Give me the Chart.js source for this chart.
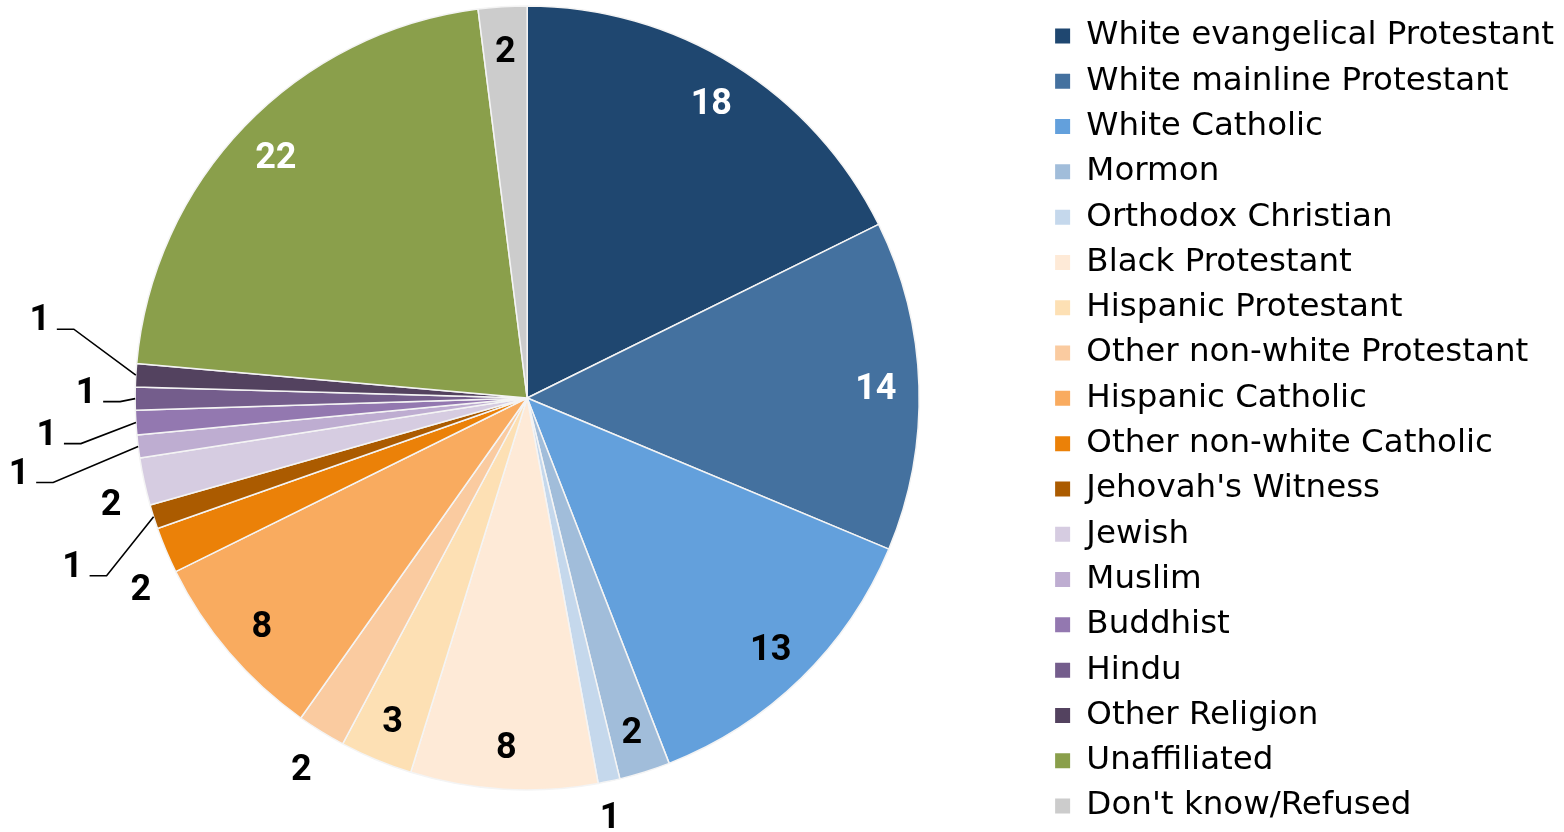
<!DOCTYPE html>
<html>
<head>
<meta charset="utf-8">
<script src="https://cdn.jsdelivr.net/npm/chart.js@4.4.1/dist/chart.umd.min.js"></script>
<style>
  html, body { margin: 0; padding: 0; background: #fff; }
  #wrap { width: 1564px; height: 832px; position: relative; }
</style>
</head>
<body>
<div id="wrap"><canvas id="religionPie"></canvas></div>
<script>
// religious groups, clockwise from 12 o'clock
const groups = [
  'White evangelical Protestant', 'White mainline Protestant', 'White Catholic', 'Mormon',
  'Orthodox Christian', 'Black Protestant', 'Hispanic Protestant', 'Other non-white Protestant',
  'Hispanic Catholic', 'Other non-white Catholic', "Jehovah's Witness", 'Jewish',
  'Muslim', 'Buddhist', 'Hindu', 'Other Religion', 'Unaffiliated', "Don't know/Refused"
];
// share of respondents (%)
const shares = [17.7, 13.6, 12.8, 2.1, 0.9, 7.7, 3.0, 2.0, 7.9, 1.9, 1.0, 1.95, 0.95, 1.0, 0.95, 0.95, 21.6, 2.0];
// rounded numbers printed on the chart
const shownValues = [18, 14, 13, 2, 1, 8, 3, 2, 8, 2, 1, 2, 1, 1, 1, 1, 22, 2];

const sliceColors = [
  '#1f4770', '#44719f', '#63a0dc', '#a1bdda', '#c5d8ec', '#feead7', '#fde0b4', '#facba0',
  '#f9ab5f', '#eb8108', '#ab5b00', '#d6cce1', '#beadd1', '#9378b0', '#745d8c', '#53425f',
  '#8a9f4b', '#cccccc'
];

// where each number goes: 'in' = inside slice, otherwise offset from the slice's outer edge
const labelPlace = [
  'in', 'in', 'in', 'in',
  { dx: 1, dy: 35 }, 'in', 'in', { dx: -20, dy: 36 },
  'in', { dx: -25, dy: 38 }, { dx: -81, dy: 48, leader: true }, { dx: -33, dy: 21 },
  { dx: -119, dy: 25, leader: true }, { dx: -89, dy: 10, leader: true },
  { dx: -49, dy: -8, leader: true }, { dx: -96, dy: -57, leader: true },
  'in', 'in'
];
const whiteText = [0, 1, 16];

const sliceLabels = {
  id: 'sliceLabels',
  afterDatasetsDraw(chart) {
    const ctx = chart.ctx;
    const arcs = chart.getDatasetMeta(0).data;
    ctx.save();
    ctx.font = 'bold 36px Roboto';
    ctx.textAlign = 'center';
    ctx.textBaseline = 'alphabetic';
    arcs.forEach((arc, i) => {
      const mid = (arc.startAngle + arc.endAngle) / 2;
      const R = arc.outerRadius;
      const place = labelPlace[i];
      let x, y;
      if (place === 'in') {
        x = arc.x + Math.cos(mid) * R * 0.89;
        y = arc.y + Math.sin(mid) * R * 0.89;
      } else {
        const ex = arc.x + Math.cos(mid) * R;
        const ey = arc.y + Math.sin(mid) * R;
        x = ex + place.dx;
        y = ey + place.dy;
        if (place.leader) {
          ctx.beginPath();
          ctx.strokeStyle = '#000';
          ctx.lineWidth = 1.6;
          ctx.moveTo(x + 17, y + 11);
          ctx.lineTo(x + 34, y + 11);
          ctx.lineTo(ex, ey);
          ctx.stroke();
        }
      }
      ctx.fillStyle = whiteText.includes(i) ? '#fff' : '#000';
      ctx.fillText(String(shownValues[i]), x, y + 12);
    });
    ctx.restore();
  }
};

const baseLabels = Chart.overrides.pie.plugins.legend.labels.generateLabels;

new Chart(document.getElementById('religionPie'), {
  type: 'pie',
  data: {
    labels: groups,
    datasets: [{
      data: shares,
      backgroundColor: sliceColors,
      borderColor: '#f4f4f4',
      borderWidth: 1.5
    }]
  },
  options: {
    responsive: true,
    maintainAspectRatio: false,
    animation: false,
    radius: 392,
    // top/bottom shift the legend column down a few px without shrinking it
    layout: { padding: { left: 12, top: 5, right: 0, bottom: -5 } },
    plugins: {
      tooltip: { enabled: false },
      // empty spacer under the pie so it sits above the legend's middle
      title: {
        display: true,
        text: '',
        position: 'bottom',
        fullSize: false,
        padding: { top: 45, bottom: 0 },
        font: { size: 1, lineHeight: 1 }
      },
      legend: {
        position: 'right',
        labels: {
          boxWidth: 15,
          boxHeight: 15,
          padding: 12.8,
          color: '#000',
          font: { family: 'DejaVu Sans', size: 32.5 },
          generateLabels(chart) {
            return baseLabels(chart).map(item => ({ ...item, lineWidth: 0 }));
          }
        }
      }
    }
  },
  plugins: [sliceLabels]
});
</script>
</body>
</html>
